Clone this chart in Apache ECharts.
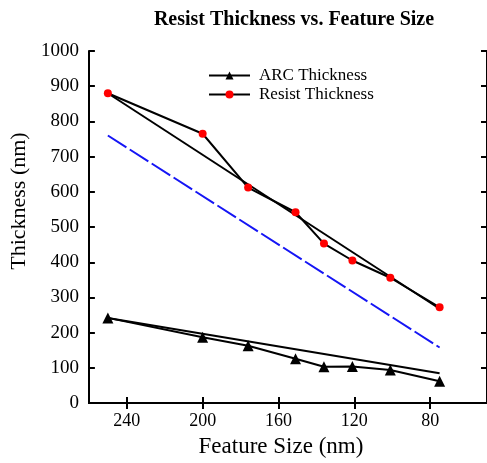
<!DOCTYPE html>
<html>
<head>
<meta charset="utf-8">
<script src="https://cdn.jsdelivr.net/npm/echarts@6/dist/echarts.min.js"></script>
<style>
html,body{margin:0;padding:0;background:#fff;}
#chart{width:487px;height:463px;}
</style>
</head>
<body>
<div id="chart"></div>
<script>
// feature sizes (nm)
const featureSize = [250, 200, 176, 151, 136, 121, 101, 75]
const arcThickness = [242, 187, 163, 126, 103, 104, 94, 62]
const resistThickness = [880, 765, 612, 542, 453, 405, 356, 272]
// trend lines: [start, end] points
const arcTrend = [[250, 242], [75, 85]]
const resistTrend = [[250, 880], [75, 268]]
const blueTrend = [[250, 760], [75, 158]]
const xTicks = [240, 200, 160, 120, 80]

const font = 'Liberation Serif'
const pair = (xs, ys) => xs.map((x, i) => [x, ys[i]])

const mychart = echarts.init(document.getElementById('chart'))

const xBase = {
  type: 'value',
  min: 50,
  max: 260,
  inverse: true,
  splitLine: { show: false },
  axisLine: { show: true, lineStyle: { color: '#000', width: 2 } },
  axisTick: { show: true, inside: true, length: 6, customValues: xTicks, lineStyle: { color: '#000', width: 2 } }
}
const yBase = {
  type: 'value',
  min: 0,
  max: 1000,
  interval: 100,
  splitLine: { show: false },
  axisLine: { show: true, lineStyle: { color: '#000', width: 2 } },
  axisTick: { show: true, inside: true, length: 6, lineStyle: { color: '#000', width: 2 } }
}

const option = {
  animation: false,
  backgroundColor: '#fff',
  title: {
    text: 'Resist Thickness vs. Feature Size',
    left: 289,
    textAlign: 'center',
    top: 5,
    textStyle: { fontFamily: font, fontWeight: 'bold', fontSize: 20, color: '#000' }
  },
  legend: {
    orient: 'vertical',
    left: 203,
    top: 62,
    itemWidth: 41,
    itemHeight: 10,
    itemGap: 2,
    data: ['ARC Thickness', 'Resist Thickness'],
    textStyle: { fontFamily: font, fontSize: 17, color: '#000', padding: [0, 0, 0, 4] }
  },
  grid: { left: 82, right: -2, top: 51, bottom: 54 },
  xAxis: [
    Object.assign({}, xBase, {
      position: 'bottom',
      name: 'Feature Size (nm)',
      nameLocation: 'middle',
      nameGap: 31,
      nameTextStyle: { fontFamily: font, fontSize: 23, color: '#000', padding: [0, 14, 0, 0] },
      axisLabel: { customValues: xTicks, margin: 9, fontFamily: font, fontSize: 18, color: '#000' }
    }),
    Object.assign({}, xBase, { position: 'top', axisLabel: { show: false } })
  ],
  yAxis: [
    Object.assign({}, yBase, {
      position: 'left',
      name: 'Thickness (nm)',
      nameLocation: 'middle',
      nameGap: 57,
      nameTextStyle: { fontFamily: font, fontSize: 22, color: '#000', padding: [0, 0, 0, 52] },
      axisLabel: { margin: 10, fontFamily: font, fontSize: 19, color: '#000', formatter: v => String(v) }
    }),
    Object.assign({}, yBase, { position: 'right', axisLabel: { show: false } })
  ],
  series: [
    {
      name: 'ARC trend', type: 'line', data: arcTrend, showSymbol: false, silent: true,
      lineStyle: { color: '#000', width: 2 }, z: 2
    },
    {
      name: 'Resist trend', type: 'line', data: resistTrend, showSymbol: false, silent: true,
      lineStyle: { color: '#000', width: 2 }, z: 2
    },
    {
      name: 'Blue trend', type: 'line', data: blueTrend, showSymbol: false, silent: true,
      lineStyle: { color: '#1515f5', width: 2, type: [22, 4] }, z: 2
    },
    {
      name: 'ARC Thickness', type: 'line', data: pair(featureSize, arcThickness),
      symbol: 'triangle', symbolSize: 11,
      itemStyle: { color: '#000' }, lineStyle: { color: '#000', width: 2 }, z: 3
    },
    {
      name: 'Resist Thickness', type: 'line', data: pair(featureSize, resistThickness),
      symbol: 'circle', symbolSize: 8,
      itemStyle: { color: '#ff0000', borderWidth: 0 }, lineStyle: { color: '#000', width: 2 }, z: 3
    }
  ]
}
mychart.setOption(option, true)
</script>
</body>
</html>
